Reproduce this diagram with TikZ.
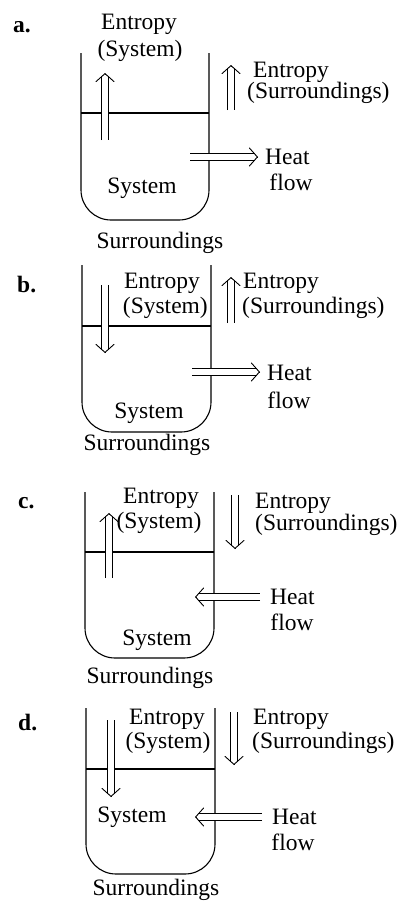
\documentclass[tikz,border=0pt]{standalone}
\usepackage{fontspec}
\setmainfont{Liberation Serif}
\usetikzlibrary{arrows.meta,calc}
\begin{document}
\begin{tikzpicture}[x=1pt,y=-1pt,
  txt/.style={font=\fontsize{23.5}{26}\selectfont, inner sep=0pt},
  lbl/.style={font=\fontsize{23.5}{26}\selectfont\bfseries, inner sep=0pt, anchor=west},
  beaker/.style={line width=1.1pt, rounded corners=30pt},
  level/.style={line width=1.1pt},
  shaft/.style={double, double distance=6pt, line width=0.9pt, shorten >=3pt},
  head/.style={line width=0.9pt, -{Straight Barb[length=8pt,width=18pt,line cap=round,line join=miter]}}]
\newcommand{\dblarrow}[2]{%
  \draw[shaft] (#1) -- (#2);
  \draw[head] ($(#2)!1pt!(#1)$) -- (#2);}
\useasboundingbox (0,0) rectangle (400,910);
% ---------- a ----------
\node[lbl] (la) at (13,27) {a.};
\draw[beaker] (81,53) -- (81,220) -- (209,220) -- (209,53);
\coordinate (aL) at (81,113); \coordinate (aR) at (209,113);
\draw[level] (aL) -- (aR);
\node[txt] (aE) at (139,24) {Entropy};
\node[txt] (aS) at (140,51) {(System)};
\node[txt,anchor=west] (aE2) at (253,72) {Entropy};
\node[txt,anchor=west] (aS2) at (247,93) {(Surroundings)};
\node[txt,anchor=west] (aH) at (265,157) {Heat};
\node[txt] (aF) at (291,182) {flow};
\node[txt] (aSys) at (142,188) {System};
\node[txt] (aSur) at (160,243) {Surroundings};
\coordinate (a1s) at (105,140); \coordinate (a1e) at (105,73);
\coordinate (a2s) at (231,110); \coordinate (a2e) at (231,65);
\coordinate (a3s) at (190,157); \coordinate (a3e) at (258,157);
\dblarrow{a1s}{a1e}
\dblarrow{a2s}{a2e}
\dblarrow{a3s}{a3e}
% ---------- b ----------
\node[lbl] (lb) at (17,285) {b.};
\draw[beaker] (82,265) -- (82,432) -- (211,432) -- (211,265);
\coordinate (bL) at (82,326); \coordinate (bR) at (211,326);
\draw[level] (bL) -- (bR);
\node[txt,anchor=east] (bE) at (200,283) {Entropy};
\node[txt,anchor=east] (bS) at (208,308) {(System)};
\node[txt,anchor=west] (bE2) at (243,283) {Entropy};
\node[txt,anchor=west] (bS2) at (242,308) {(Surroundings)};
\node[txt,anchor=west] (bH) at (267,373) {Heat};
\node[txt] (bF) at (289,400) {flow};
\node[txt] (bSys) at (149,413) {System};
\node[txt] (bSur) at (147,445) {Surroundings};
\coordinate (b1s) at (105,285); \coordinate (b1e) at (105,353);
\coordinate (b2s) at (231,323); \coordinate (b2e) at (231,277);
\coordinate (b3s) at (192,372); \coordinate (b3e) at (260,372);
\dblarrow{b1s}{b1e}
\dblarrow{b2s}{b2e}
\dblarrow{b3s}{b3e}
% ---------- c ----------
\node[lbl] (lc) at (18,503) {c.};
\draw[beaker] (85,492) -- (85,658) -- (214,658) -- (214,492);
\coordinate (cL) at (85,552); \coordinate (cR) at (214,552);
\draw[level] (cL) -- (cR);
\node[txt] (cE) at (161,498) {Entropy};
\node[txt] (cS) at (159,523) {(System)};
\node[txt,anchor=west] (cE2) at (255,503) {Entropy};
\node[txt,anchor=west] (cS2) at (255,525) {(Surroundings)};
\node[txt,anchor=west] (cH) at (270,597) {Heat};
\node[txt] (cF) at (292,622) {flow};
\node[txt] (cSys) at (157,640) {System};
\node[txt] (cSur) at (150,678) {Surroundings};
\coordinate (c1s) at (109,578); \coordinate (c1e) at (109,513);
\coordinate (c2s) at (235,495); \coordinate (c2e) at (235,549);
\coordinate (c3s) at (260,597); \coordinate (c3e) at (195,597);
\dblarrow{c1s}{c1e}
\dblarrow{c2s}{c2e}
\dblarrow{c3s}{c3e}
% ---------- d ----------
\node[lbl] (ld) at (18,723) {d.};
\draw[beaker] (86,708) -- (86,874) -- (215,874) -- (215,708);
\coordinate (dL) at (86,769); \coordinate (dR) at (215,769);
\draw[level] (dL) -- (dR);
\node[txt] (dE) at (167,719) {Entropy};
\node[txt] (dS) at (168,743) {(System)};
\node[txt,anchor=west] (dE2) at (253,719) {Entropy};
\node[txt,anchor=west] (dS2) at (252,743) {(Surroundings)};
\node[txt,anchor=west] (dH) at (272,817) {Heat};
\node[txt] (dF) at (293,842) {flow};
\node[txt] (dSys) at (132,817) {System};
\node[txt] (dSur) at (156,890) {Surroundings};
\coordinate (d1s) at (111,720); \coordinate (d1e) at (111,797);
\coordinate (d2s) at (234,712); \coordinate (d2e) at (234,765);
\coordinate (d3s) at (262,817); \coordinate (d3e) at (195,817);
\dblarrow{d1s}{d1e}
\dblarrow{d2s}{d2e}
\dblarrow{d3s}{d3e}
\end{tikzpicture}
\end{document}
